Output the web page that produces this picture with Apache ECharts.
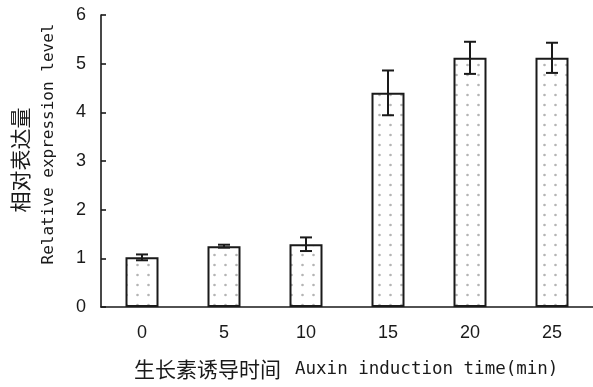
<!DOCTYPE html>
<html>
<head>
<meta charset="utf-8">
<script src="https://cdn.jsdelivr.net/npm/echarts@6/dist/echarts.min.js"></script>
<style>
html,body{margin:0;padding:0;background:#fff;}
#chart{width:593px;height:387px;}
</style>
</head>
<body>
<div id="chart"></div>
<script>
// Relative expression after auxin induction
var categories = ['0', '5', '10', '15', '20', '25'];
var meanValues = [1.02, 1.25, 1.29, 4.40, 5.12, 5.12];
var errorValues = [0.06, 0.03, 0.14, 0.46, 0.33, 0.31];
var yTicks = [0, 1, 2, 3, 4, 5, 6];

// dotted fill for the bars
function dotPattern() {
  var c = document.createElement('canvas');
  c.width = 11; c.height = 10;
  var g = c.getContext('2d');
  g.fillStyle = '#ffffff';
  g.fillRect(0, 0, 11, 10);
  g.fillStyle = '#b4b4b4';
  g.beginPath();
  g.arc(5.5, 5, 1.3, 0, Math.PI * 2);
  g.fill();
  return c;
}

var chart = echarts.init(document.getElementById('chart'), null, {renderer: 'canvas'});
var mono = '"DejaVu Sans Mono", "Noto Sans CJK SC", monospace';

var errorData = meanValues.map(function (v, i) {
  return [i, v - errorValues[i], v + errorValues[i]];
});

chart.setOption({
  backgroundColor: '#ffffff',
  animation: false,
  grid: {left: 101, right: -3, top: 15, bottom: 80},
  xAxis: {
    type: 'category',
    data: categories,
    axisLine: {lineStyle: {color: '#1a1a1a', width: 1.6}},
    axisTick: {inside: true, length: 6, lineStyle: {color: '#1a1a1a', width: 1.6}},
    axisLabel: {color: '#1a1a1a', fontSize: 18, fontFamily: 'Liberation Sans, Arial, sans-serif', margin: 17}
  },
  yAxis: {
    type: 'value',
    min: yTicks[0],
    max: yTicks[yTicks.length - 1],
    interval: 1,
    splitLine: {show: false},
    axisLine: {show: true, lineStyle: {color: '#1a1a1a', width: 1.6}},
    axisTick: {show: true, inside: true, length: 5, lineStyle: {color: '#1a1a1a', width: 1.6}},
    axisLabel: {color: '#1a1a1a', fontSize: 18, fontFamily: 'Liberation Sans, Arial, sans-serif', margin: 15}
  },
  series: [
    {
      type: 'bar',
      data: meanValues,
      barWidth: 33,
      itemStyle: {
        color: {image: dotPattern(), repeat: 'repeat'},
        borderColor: '#1a1a1a',
        borderWidth: 2
      }
    },
    {
      type: 'custom',
      data: errorData,
      z: 5,
      renderItem: function (params, api) {
        var x = api.value(0);
        var lo = api.coord([x, api.value(1)]);
        var hi = api.coord([x, api.value(2)]);
        var hw = 6;
        var style = {stroke: '#1a1a1a', lineWidth: 2};
        return {
          type: 'group',
          children: [
            {type: 'line', shape: {x1: lo[0], y1: lo[1], x2: hi[0], y2: hi[1]}, style: style},
            {type: 'line', shape: {x1: lo[0] - hw, y1: lo[1], x2: lo[0] + hw, y2: lo[1]}, style: style},
            {type: 'line', shape: {x1: hi[0] - hw, y1: hi[1], x2: hi[0] + hw, y2: hi[1]}, style: style}
          ]
        };
      }
    }
  ],
  graphic: [
    {
      type: 'text', left: 134, top: 359,
      style: {text: '生长素诱导时间', fontSize: 21, fontFamily: '"Noto Sans CJK SC", sans-serif', fill: '#1a1a1a'}
    },
    {
      type: 'text', left: 295, top: 361,
      style: {text: 'Auxin induction time(min)', fontSize: 17.5, fontFamily: mono, fill: '#1a1a1a'}
    },
    {
      type: 'text', x: 20, y: 160, rotation: Math.PI / 2,
      style: {text: '相对表达量', fontSize: 21, fontFamily: '"Noto Sans CJK SC", sans-serif', fill: '#1a1a1a', align: 'center', verticalAlign: 'middle'}
    },
    {
      type: 'text', x: 49, y: 144, rotation: Math.PI / 2,
      style: {text: 'Relative expression level', fontSize: 16, fontFamily: mono, fill: '#1a1a1a', align: 'center', verticalAlign: 'middle'}
    }
  ]
});
</script>
</body>
</html>
